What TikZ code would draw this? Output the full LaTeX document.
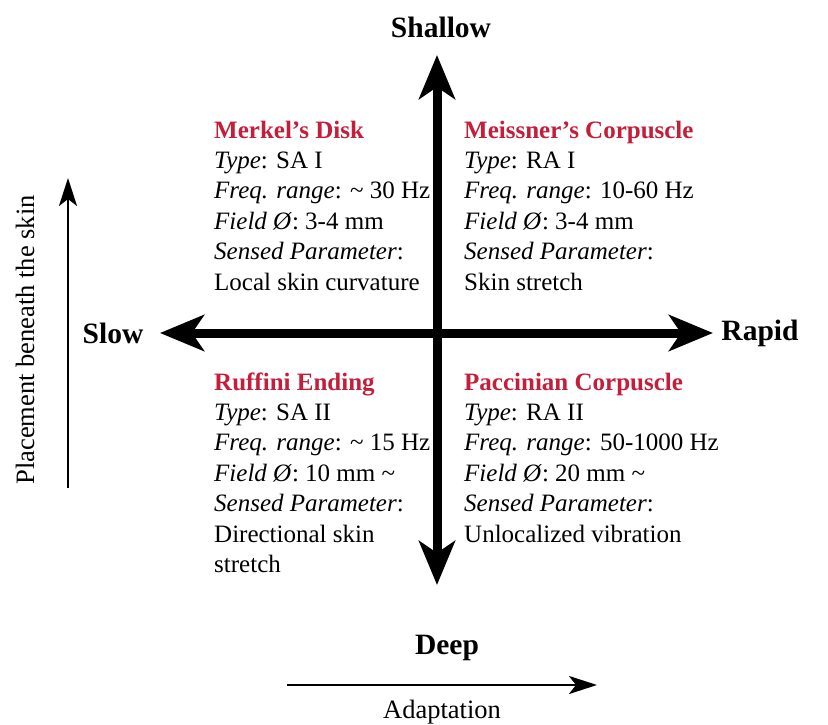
\documentclass[tikz,border=0pt]{standalone}
\usepackage{fontspec}
\setmainfont{Liberation Serif}
\usetikzlibrary{arrows.meta}

\definecolor{receptor}{RGB}{196,30,58}

\tikzset{
    bigaxis/.style={line width=9pt, {Stealth[length=44pt,width=36pt,inset=12pt]}-{Stealth[length=44pt,width=36pt,inset=12pt]}},
    smallaxis/.style={line width=2.5pt, -{Stealth[length=28pt,width=18pt,inset=7pt]}},
    axislabel/.style={font=\fontsize{29.5}{35}\selectfont\bfseries, inner sep=0pt},
    sidelabel/.style={font=\fontsize{26.5}{32}\selectfont, inner sep=0pt},
    block/.style={font=\fontsize{25}{30.4}\selectfont, align=left, inner sep=0pt, anchor=base west},
}
\newcommand{\rname}[1]{\textcolor{receptor}{\textbf{#1}}}

\begin{document}
\begin{tikzpicture}[x=1pt, y=-1pt, line cap=butt, line join=miter]

            \useasboundingbox (0,0) rectangle (828,725);

            % main axes
            \coordinate (shallowtip) at (437,55);
            \coordinate (deeptip) at (437,585);
            \coordinate (slowtip) at (160,333);
            \coordinate (rapidtip) at (713,333);

            \draw[bigaxis] (deeptip) -- (shallowtip);
            \draw[bigaxis] (slowtip) -- (rapidtip);

            \node[axislabel] (shallow) at (441,27) {Shallow};
            \node[axislabel] (deep) at (447,648) {Deep};
            \node[axislabel] (slow) at (113,333) {Slow};
            \node[axislabel] (rapid) at (760,333) {Rapid};

            % side arrows
            \coordinate (placestart) at (68,488);
            \coordinate (placeend) at (68,178);
            \draw[smallaxis] (placestart) -- (placeend);
            \node[sidelabel, rotate=90] (placement) at (25,340) {Placement beneath the skin};

            \coordinate (adaptstart) at (287,685);
            \coordinate (adaptend) at (597,685);
            \draw[smallaxis] (adaptstart) -- (adaptend);
            \node[sidelabel] (adaptation) at (442,712) {Adaptation};

            % receptors (placed at the baseline of their last line)
            \node[block] (merkel) at (214,290) {\rname{Merkel's Disk}\\
                \textit{Type}: SA I\\
                \textit{Freq. range}: \textasciitilde{} 30 Hz\\
                \textit{Field Ø}: 3-4 mm\\
                \textit{Sensed Parameter}:\\
                Local skin curvature};

            \node[block] (meissner) at (464,290) {\rname{Meissner's Corpuscle}\\
                \textit{Type}: RA I\\
                \textit{Freq. range}: 10-60 Hz\\
                \textit{Field Ø}: 3-4 mm\\
                \textit{Sensed Parameter}:\\
                Skin stretch};

            \node[block] (ruffini) at (214,572.4) {\rname{Ruffini Ending}\\
                \textit{Type}: SA II\\
                \textit{Freq. range}: \textasciitilde{} 15 Hz\\
                \textit{Field Ø}: 10 mm \textasciitilde\\
                \textit{Sensed Parameter}:\\
                Directional skin\\
                stretch};

            \node[block] (paccinian) at (464,542) {\rname{Paccinian Corpuscle}\\
                \textit{Type}: RA II\\
                \textit{Freq. range}: 50-1000 Hz\\
                \textit{Field Ø}: 20 mm \textasciitilde\\
                \textit{Sensed Parameter}:\\
                Unlocalized vibration};

\end{tikzpicture}
\end{document}
